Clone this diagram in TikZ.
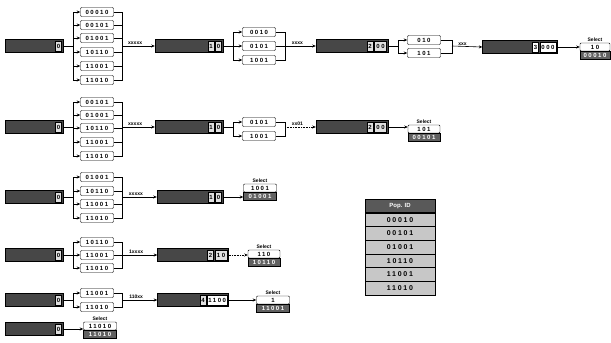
\documentclass[tikz,border=0pt]{standalone}
\usepackage{fontspec}
\setsansfont{Liberation Sans}
\newfontfamily\bitfont[LetterSpace=25]{Liberation Sans}
\usetikzlibrary{
    arrows.meta,
    positioning
}

\begin{document}
\begin{tikzpicture}[
        x=1pt, y=-1pt,
        >={Stealth[length=3.5pt,width=3pt]},
        gene/.style={
            rectangle,
            draw,
            fill=black!72,
            minimum height=13pt,
            inner sep=0pt
        },
        cell/.style={
            rectangle,
            draw,
            fill=black!12,
            minimum height=10pt,
            minimum width=6pt,
            inner sep=1pt,
            font=\bitfont\bfseries\fontsize{6}{6}\selectfont
        },
        bits/.style={
            rectangle,
            draw,
            rounded corners=1pt,
            fill=white,
            minimum width=33pt,
            minimum height=9pt,
            inner sep=0pt,
            font=\bitfont\bfseries\fontsize{6}{6}\selectfont
        },
        pick/.style={
            bits,
            rounded corners=0pt,
            fill=black!62,
            text=white
        },
        tag/.style={
            font=\sffamily\bfseries\fontsize{5}{5}\selectfont,
            inner sep=1pt
        },
        wire/.style={semithick}
    ]
        \useasboundingbox (0,0) rectangle (611,343);

        % row 1
        \node[gene, minimum width=58pt] (g11) at (34,46) {};
        \node[cell, anchor=east] (g11a) at ([xshift=-1.5pt]g11.east) {0};
        \foreach \s/\y [count=\i] in {00010/12, 00101/25, 01001/38, 10110/52, 11001/66, 11010/80}
            \node[bits] (p1\i) at (97,\y) {\s};
        \coordinate (b11) at (73,46);
        \coordinate (c11) at (122,46);
        \draw[wire] (g11.east) -- (b11);
        \foreach \i in {1,...,6} {
            \draw[wire, ->] (b11) |- (p1\i.west);
            \draw[wire] (p1\i.east) -| (c11);
        }
        \node[gene, minimum width=68pt] (g12) at (189,46) {};
        \node[cell, anchor=east] (g12b) at ([xshift=-1.5pt]g12.east) {0};
        \node[cell, left=1pt of g12b] (g12a) {1};
        \draw[wire, ->] (c11) -- node[tag, above, pos=0.4] {xxxxx} (g12.west);
        \foreach \s/\y [count=\i] in {0010/32, 0101/46, 1001/60}
            \node[bits] (q1\i) at (259,\y) {\s};
        \coordinate (b12) at (233,46);
        \coordinate (c12) at (285,46);
        \draw[wire] (g12.east) -- (b12);
        \foreach \i in {1,...,3} {
            \draw[wire, ->] (b12) |- (q1\i.west);
            \draw[wire] (q1\i.east) -| (c12);
        }
        \node[gene, minimum width=72pt] (g13) at (352,46) {};
        \node[cell, anchor=east, minimum width=12pt] (g13b) at ([xshift=-1.5pt]g13.east) {00};
        \node[cell, left=1pt of g13b] (g13a) {2};
        \draw[wire, ->] (c12) -- node[tag, above, pos=0.4] {xxxx} (g13.west);
        \foreach \s/\y [count=\i] in {010/40, 101/53}
            \node[bits] (r1\i) at (424,\y) {\s};
        \coordinate (b13) at (398,46);
        \coordinate (c13) at (452,46);
        \draw[wire] (g13.east) -- (b13);
        \foreach \i in {1,2} {
            \draw[wire, ->] (b13) |- (r1\i.west);
            \draw[wire] (r1\i.east) -| (c13);
        }
        \node[gene, minimum width=75pt] (g14) at (520,47) {};
        \node[cell, anchor=east, minimum width=16pt, fill=white] (g14b) at ([xshift=-1.5pt]g14.east) {000};
        \node[cell, left=1pt of g14b, fill=white] (g14a) {3};
        \draw[wire, ->] (c13) -- node[tag, above, pos=0.35] {xxx} (g14.west);
        \node[bits, minimum width=30pt, minimum height=8pt] (s1v) at (595,47) {10};
        \node[pick, minimum width=30pt, minimum height=8pt, below=0pt of s1v] (s1p) {00010};
        \node[tag, above=0pt of s1v] (s1t) {Select};
        \draw[wire, ->] (g14.east) -- (g14.east -| s1v.west);

        % row 2
        \node[gene, minimum width=58pt] (g21) at (34,127) {};
        \node[cell, anchor=east] (g21a) at ([xshift=-1.5pt]g21.east) {0};
        \foreach \s/\y [count=\i] in {00101/102, 01001/115, 10110/128, 11001/142, 11010/156}
            \node[bits] (p2\i) at (97,\y) {\s};
        \coordinate (b21) at (73,127);
        \coordinate (c21) at (122,127);
        \draw[wire] (g21.east) -- (b21);
        \foreach \i in {1,...,5} {
            \draw[wire, ->] (b21) |- (p2\i.west);
            \draw[wire] (p2\i.east) -| (c21);
        }
        \node[gene, minimum width=68pt] (g22) at (189,127) {};
        \node[cell, anchor=east] (g22b) at ([xshift=-1.5pt]g22.east) {0};
        \node[cell, left=1pt of g22b] (g22a) {1};
        \draw[wire, ->] (c21) -- node[tag, above, pos=0.4] {xxxxx} (g22.west);
        \foreach \s/\y [count=\i] in {0101/122, 1001/136}
            \node[bits] (q2\i) at (259,\y) {\s};
        \coordinate (b22) at (233,127);
        \coordinate (c22) at (285,127);
        \draw[wire] (g22.east) -- (b22);
        \foreach \i in {1,2} {
            \draw[wire, ->] (b22) |- (q2\i.west);
            \draw[wire] (q2\i.east) -| (c22);
        }
        \node[gene, minimum width=72pt] (g23) at (352,127) {};
        \node[cell, anchor=east, minimum width=12pt] (g23b) at ([xshift=-1.5pt]g23.east) {00};
        \node[cell, left=1pt of g23b] (g23a) {2};
        \draw[wire, densely dotted, ->] (c22) -- node[tag, above, pos=0.4] {xx01} (g23.west);
        \node[bits, minimum width=32pt, minimum height=8pt] (s2v) at (424,129) {101};
        \node[pick, minimum width=32pt, minimum height=8pt, below=0pt of s2v] (s2p) {00101};
        \node[tag, above=0pt of s2v] (s2t) {Select};
        \draw[wire, ->] (g23.east) -- (g23.east -| s2v.west);

        % row 3
        \node[gene, minimum width=58pt] (g31) at (34,197) {};
        \node[cell, anchor=east] (g31a) at ([xshift=-1.5pt]g31.east) {0};
        \foreach \s/\y [count=\i] in {01001/177, 10110/191, 11001/204, 11010/218}
            \node[bits] (p3\i) at (97,\y) {\s};
        \coordinate (b31) at (73,197);
        \coordinate (c31) at (122,197);
        \draw[wire] (g31.east) -- (b31);
        \foreach \i in {1,...,4} {
            \draw[wire, ->] (b31) |- (p3\i.west);
            \draw[wire] (p3\i.east) -| (c31);
        }
        \node[gene, minimum width=66pt] (g32) at (190,197) {};
        \node[cell, anchor=east] (g32b) at ([xshift=-1.5pt]g32.east) {0};
        \node[cell, left=1pt of g32b] (g32a) {1};
        \draw[wire, ->] (c31) -- node[tag, above, pos=0.4] {xxxxx} (g32.west);
        \node[bits, minimum width=33pt, minimum height=8pt] (s3v) at (260,188) {1001};
        \node[pick, minimum width=33pt, minimum height=8pt, below=0pt of s3v] (s3p) {01001};
        \node[tag, above=0pt of s3v] (s3t) {Select};
        \draw[wire, ->] (g32.east) -- (g32.east -| s3v.west);

        % row 4
        \node[gene, minimum width=58pt] (g41) at (34,255) {};
        \node[cell, anchor=east] (g41a) at ([xshift=-1.5pt]g41.east) {0};
        \foreach \s/\y [count=\i] in {10110/242, 11001/255, 11010/268}
            \node[bits] (p4\i) at (97,\y) {\s};
        \coordinate (b41) at (73,255);
        \coordinate (c41) at (122,255);
        \draw[wire] (g41.east) -- (b41);
        \foreach \i in {1,...,3} {
            \draw[wire, ->] (b41) |- (p4\i.west);
            \draw[wire] (p4\i.east) -| (c41);
        }
        \node[gene, minimum width=71pt] (g42) at (193,255) {};
        \node[cell, anchor=east, minimum width=12pt] (g42b) at ([xshift=-1.5pt]g42.east) {10};
        \node[cell, left=1pt of g42b] (g42a) {2};
        \draw[wire, ->] (c41) -- node[tag, above, pos=0.4] {1xxxx} (g42.west);
        \node[bits, minimum width=32pt, minimum height=8pt] (s4v) at (264,254) {110};
        \node[pick, minimum width=32pt, minimum height=8pt, below=0pt of s4v] (s4p) {10110};
        \node[tag, above=0pt of s4v] (s4t) {Select};
        \draw[wire, densely dotted, ->] (g42.east) -- (g42.east -| s4v.west);

        % row 5
        \node[gene, minimum width=58pt] (g51) at (34,300) {};
        \node[cell, anchor=east] (g51a) at ([xshift=-1.5pt]g51.east) {0};
        \foreach \s/\y [count=\i] in {11001/293, 11010/307}
            \node[bits] (p5\i) at (97,\y) {\s};
        \coordinate (b51) at (73,300);
        \coordinate (c51) at (122,300);
        \draw[wire] (g51.east) -- (b51);
        \foreach \i in {1,2} {
            \draw[wire, ->] (b51) |- (p5\i.west);
            \draw[wire] (p5\i.east) -| (c51);
        }
        \node[gene, minimum width=71pt] (g52) at (193,300) {};
        \node[cell, anchor=east, minimum width=19pt, fill=white] (g52b) at ([xshift=-1.5pt]g52.east) {1100};
        \node[cell, left=1pt of g52b] (g52a) {4};
        \draw[wire, ->] (c51) -- node[tag, above, pos=0.4] {110xx} (g52.west);
        \node[bits, minimum width=33pt, minimum height=8pt] (s5v) at (273,300) {1};
        \node[pick, minimum width=33pt, minimum height=8pt, below=0pt of s5v] (s5p) {11001};
        \node[tag, above=0pt of s5v] (s5t) {Select};
        \draw[wire, ->] (g52.east) -- (g52.east -| s5v.west);

        % row 6
        \node[gene, minimum width=58pt] (g61) at (34,329) {};
        \node[cell, anchor=east] (g61a) at ([xshift=-1.5pt]g61.east) {0};
        \node[bits, minimum width=33pt, minimum height=8pt] (s6v) at (100,326) {11010};
        \node[pick, minimum width=33pt, minimum height=8pt, below=0pt of s6v] (s6p) {11010};
        \node[tag, above=0pt of s6v] (s6t) {Select};
        \draw[wire, ->] (g61.east) -- (g61.east -| s6v.west);

        % population table
        \node[rectangle, draw, fill=black!65, text=white, minimum width=70pt, minimum height=13pt,
              font=\sffamily\bfseries\fontsize{6}{6}\selectfont] (pop) at (400,206) {Pop. ID};
        \foreach \s [count=\i] in {00010, 00101, 01001, 10110, 11001, 11010}
            \node[rectangle, draw, fill=black!22, minimum width=70pt, minimum height=13.7pt,
                  font=\bitfont\bfseries\fontsize{7}{7}\selectfont] (pop\i) at (400,{206+13.7*\i}) {\s};
    \end{tikzpicture}
\end{document}
